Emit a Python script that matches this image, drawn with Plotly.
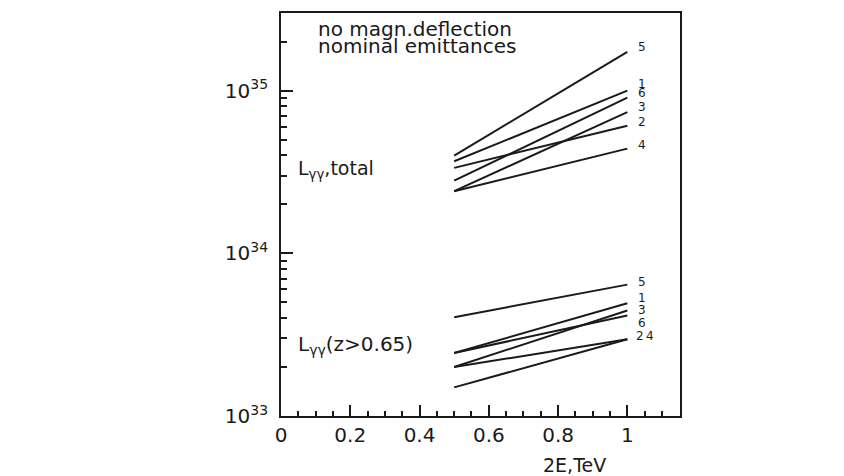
import math
import plotly.graph_objects as go

# ---------------- data ----------------
energy = [0.5, 1.0]                      # 2E, TeV
curve_ids = ["1", "2", "3", "4", "5", "6"]

# L_gamma-gamma total (cm^-2 s^-1) at 2E = 0.5 and 1.0 TeV
total_1 = [3.68e34, 1.00e35]
total_2 = [3.35e34, 6.08e34]
total_3 = [2.41e34, 7.37e34]
total_4 = [2.41e34, 4.40e34]
total_5 = [3.99e34, 1.73e35]
total_6 = [2.80e34, 9.06e34]

# L_gamma-gamma (z > 0.65)
hz_1 = [2.44e33, 4.93e33]
hz_2 = [1.50e33, 2.96e33]
hz_3 = [2.00e33, 4.45e33]
hz_4 = [2.00e33, 2.96e33]
hz_5 = [4.05e33, 6.42e33]
hz_6 = [2.44e33, 4.15e33]

y_tick_vals = [1e33, 1e34, 1e35]
y_tick_text = ["10<sup>33</sup>", "10<sup>34</sup>", "10<sup>35</sup>"]

total_series = [total_1, total_2, total_3, total_4, total_5, total_6]
hz_series = [hz_1, hz_2, hz_3, hz_4, hz_5, hz_6]

# label offsets (pixels) so the numbers sit beside the line ends
total_label_shift = {"1": (9, 7), "2": (9, 4), "3": (9, 5), "4": (9, 4), "5": (9, 5), "6": (9, 5)}
hz_label_shift = {"1": (9, 5), "2": (7, 3), "3": (9, 1), "4": (17, 3), "5": (9, 3), "6": (9, -8)}

FONT = "DejaVu Sans"
INK = "#1a1a1a"

fig = go.Figure()
for cid, ys in zip(curve_ids, total_series):
    fig.add_trace(go.Scatter(x=energy, y=ys, mode="lines",
                             line=dict(color=INK, width=2), showlegend=False,
                             name=f"total {cid}"))
for cid, ys in zip(curve_ids, hz_series):
    fig.add_trace(go.Scatter(x=energy, y=ys, mode="lines",
                             line=dict(color=INK, width=2), showlegend=False,
                             name=f"z>0.65 {cid}"))

annotations = []
for series, shifts in ((total_series, total_label_shift), (hz_series, hz_label_shift)):
    for cid, ys in zip(curve_ids, series):
        dx, dy = shifts[cid]
        annotations.append(dict(x=energy[-1], y=math.log10(ys[-1]), xref="x", yref="y",
                                text=cid, showarrow=False, xanchor="left", yanchor="middle",
                                xshift=dx, yshift=dy,
                                font=dict(family=FONT, size=12, color=INK)))

# the page body has an 8px margin; target frame in window pixels:
OFF = 8
L, R, T, B = 281, 680, 11, 416
W, H = 844 - OFF, 476 - OFF


def px(xp):
    return (xp - L) / (R - L)


def py(yp):
    return (B - yp) / (B - T)


annotations += [
    dict(x=px(316), y=py(27), xref="paper", yref="paper", text="no magn.deflection",
         showarrow=False, xanchor="left", yanchor="middle",
         font=dict(family=FONT, size=20, color=INK)),
    dict(x=px(316), y=py(44), xref="paper", yref="paper", text="nominal emittances",
         showarrow=False, xanchor="left", yanchor="middle",
         font=dict(family=FONT, size=20, color=INK)),
    dict(x=px(296), y=py(168), xref="paper", yref="paper", text="L<sub>γγ</sub>,total",
         showarrow=False, xanchor="left", yanchor="middle",
         font=dict(family=FONT, size=19, color=INK)),
    dict(x=px(296), y=py(345), xref="paper", yref="paper", text="L<sub>γγ</sub>(z&gt;0.65)",
         showarrow=False, xanchor="left", yanchor="middle",
         font=dict(family=FONT, size=20, color=INK)),
    dict(x=px(574), y=py(465), xref="paper", yref="paper", text="2E,TeV",
         showarrow=False, xanchor="center", yanchor="middle",
         font=dict(family=FONT, size=19, color=INK)),
]

minor_y = [float(m) * 10.0 ** e for e in (33, 34, 35) for m in range(2, 10)
           if float(m) * 10.0 ** e < 3e35]

fig.update_layout(
    width=W, height=H,
    margin=dict(l=L - OFF, r=W - (R - OFF), t=T - OFF, b=H - (B - OFF)),
    paper_bgcolor="white", plot_bgcolor="white",
    showlegend=False,
    annotations=annotations,
    xaxis=dict(range=[0, 1.152], tickmode="linear", tick0=0, dtick=0.2,
               ticks="inside", ticklen=11, tickwidth=1.5, tickcolor=INK,
               minor=dict(ticks="inside", ticklen=5, tickwidth=1.5, tickcolor=INK, dtick=0.05),
               showline=True, linecolor=INK, linewidth=1.8, mirror=True,
               showgrid=False, zeroline=False, ticklabelstandoff=0,
               tickfont=dict(family=FONT, size=20, color=INK)),
    yaxis=dict(type="log", range=[33, math.log10(3e35)],
               tickmode="array", tickvals=y_tick_vals, ticktext=y_tick_text,
               ticks="inside", ticklen=12, tickwidth=1.5, tickcolor=INK,
               minor=dict(ticks="inside", ticklen=6, tickwidth=1.5, tickcolor=INK,
                          tickmode="array", tickvals=minor_y),
               showline=True, linecolor=INK, linewidth=1.8, mirror=True,
               showgrid=False, zeroline=False, ticklabelstandoff=7,
               tickfont=dict(family=FONT, size=20, color=INK)),
)

fig.write_html("out.html")
